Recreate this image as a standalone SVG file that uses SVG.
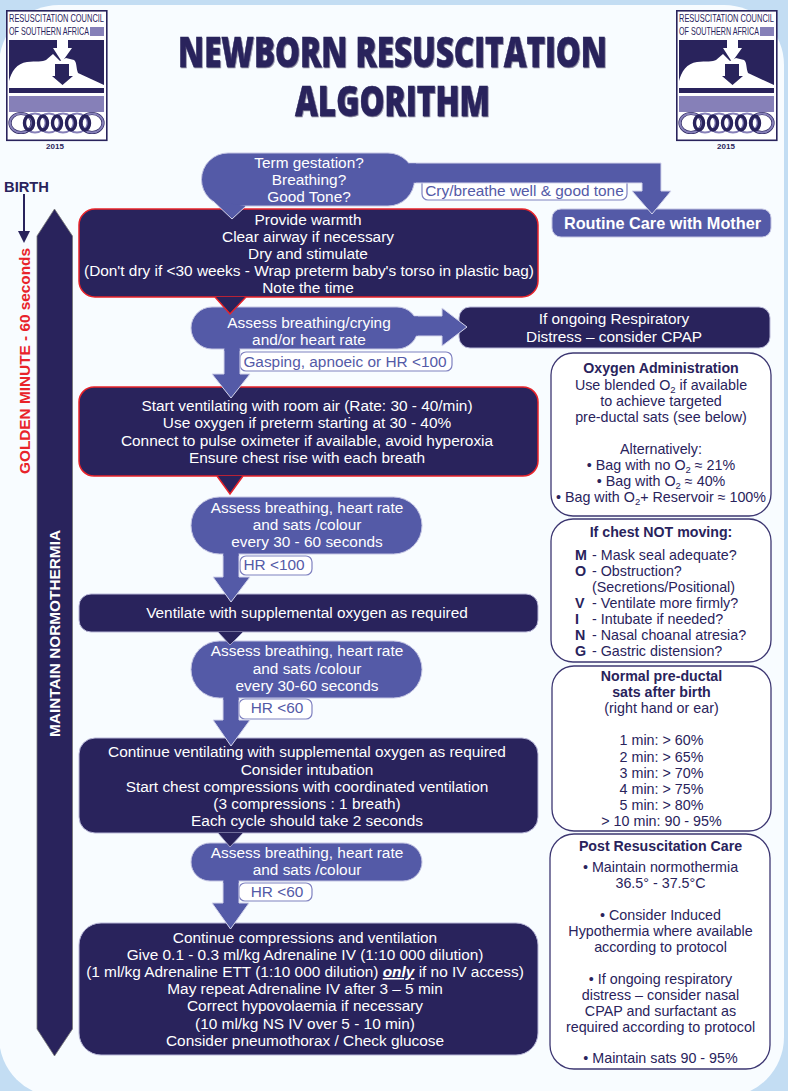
<svg xmlns="http://www.w3.org/2000/svg" width="788" height="1091" viewBox="0 0 788 1091">
<style>
text{font-family:"Liberation Sans",Arial,sans-serif}
.w{fill:#fff;font-size:15.4px;text-anchor:middle}
.n{fill:#29235c;font-size:14.3px;text-anchor:middle}
.l{fill:#29235c;font-size:14.3px}
.b{font-weight:bold}
.h{font-weight:bold;font-size:14.2px}
.s{font-size:9.500px}
.lab{fill:#545aa7;font-size:15.4px;text-anchor:middle}
.dark{fill:#29235c}
.box{fill:#29235c;stroke:#b9b8d8;stroke-width:1}
.red{fill:#29235c;stroke:#e8232a;stroke-width:1.5}
.bub{fill:#545aa7;stroke:#c4c5e3;stroke-width:1}
.lbl{fill:#fff;stroke:#7f81c0;stroke-width:1.2}
.info{fill:#fff;stroke:#3d3772;stroke-width:1.3}
.arr{fill:#545aa7;stroke:#d4d5ec;stroke-width:1}
.stub{fill:#545aa7}
.pd{fill:#29235c;stroke:#b9b8d8;stroke-width:.8}
.pr{fill:#29235c;stroke:#e8232a;stroke-width:1.5}
.title{font-family:"Open Sans","Noto Sans",sans-serif;font-weight:800;font-size:42px;fill:#29235c;stroke:#29235c;stroke-width:.5;filter:drop-shadow(1.2px 1.2px 0 #77748f)}
.lt{font-size:10.5px;fill:#29235c}
.yr{font-weight:bold;font-size:8px;fill:#29235c;text-anchor:middle}
</style>
<defs>
<g id="logoart">
<rect x="6.8" y="10.8" width="100" height="129.5" fill="#fff" stroke="#29235c" stroke-width="1.6"/>
<rect x="90" y="27" width="14" height="9" fill="#8680b8"/>
<rect x="9" y="40" width="95" height="45" fill="#29235c"/>
<path d="M9 81C11 72 17 63 27 62C36 61 43 62 46 60L53 54L60 61L66 58L74 60C77 62 76 68 78 73L104 85H9Z" fill="#fff"/>
<path d="M57 39H68V48H72L62 62L53 48H57Z" fill="#fff"/>
<path d="M55 64H69V76H73L62.500 85L52 76H55Z" fill="#29235c"/>
<rect x="9" y="88" width="95" height="5" fill="#29235c"/>
<rect x="9" y="96" width="95" height="16" fill="#8680b8"/>
<g fill="none">
<ellipse cx="21" cy="123" rx="11" ry="9.500" stroke="#29235c" stroke-width="3.200"/>
<ellipse cx="21" cy="123" rx="11" ry="9.500" stroke="#8680b8" stroke-width="2"/>
<ellipse cx="92" cy="123" rx="11" ry="9.500" stroke="#29235c" stroke-width="3.200"/>
<ellipse cx="92" cy="123" rx="11" ry="9.500" stroke="#8680b8" stroke-width="2"/>
<ellipse cx="35" cy="123" rx="10.500" ry="9.500" stroke="#8680b8" stroke-width="1.800"/>
<ellipse cx="49" cy="123" rx="10.500" ry="9.500" stroke="#8680b8" stroke-width="1.800"/>
<ellipse cx="63" cy="123" rx="10.500" ry="9.500" stroke="#8680b8" stroke-width="1.800"/>
<ellipse cx="77" cy="123" rx="10.500" ry="9.500" stroke="#8680b8" stroke-width="1.800"/>
<ellipse cx="29" cy="123" rx="4.500" ry="7" stroke="#29235c" stroke-width="3.400"/>
<ellipse cx="43" cy="123" rx="4.500" ry="7" stroke="#29235c" stroke-width="3.400"/>
<ellipse cx="57" cy="123" rx="4.500" ry="7" stroke="#29235c" stroke-width="3.400"/>
<ellipse cx="71" cy="123" rx="4.500" ry="7" stroke="#29235c" stroke-width="3.400"/>
<ellipse cx="85" cy="123" rx="4.500" ry="7" stroke="#29235c" stroke-width="3.400"/>
</g>
</g>
</defs>

<rect width="788" height="1091" fill="#c3ddf3"/>
<rect x="-1" y="5" width="785" height="1092" rx="60" ry="60" fill="#f8fcff"/>

<g id="logo-left">
<use href="#logoart"/>
<text class="lt" transform="translate(9 22) scale(.68 1)" textLength="139.700" lengthAdjust="spacingAndGlyphs">RESUSCITATION COUNCIL</text>
<text class="lt" transform="translate(9 35) scale(.68 1)" textLength="117.600" lengthAdjust="spacingAndGlyphs">OF SOUTHERN AFRICA</text>
<text class="yr" x="55" y="149">2015</text>
</g>
<g id="logo-right">
<use href="#logoart" x="670"/>
<text class="lt" transform="translate(679 22) scale(.68 1)" textLength="139.700" lengthAdjust="spacingAndGlyphs">RESUSCITATION COUNCIL</text>
<text class="lt" transform="translate(679 35) scale(.68 1)" textLength="117.600" lengthAdjust="spacingAndGlyphs">OF SOUTHERN AFRICA</text>
<text class="yr" x="726" y="149">2015</text>
</g>

<g id="title">
<text class="title" transform="translate(178 67) scale(.72 1)" textLength="595.800" lengthAdjust="spacingAndGlyphs">NEWBORN RESUSCITATION</text>
<text class="title" transform="translate(295 116) scale(.72 1)" textLength="270.800" lengthAdjust="spacingAndGlyphs">ALGORITHM</text>
</g>

<g id="birth">
<text x="4" y="192" font-size="15" font-weight="bold" fill="#29235c" textLength="45" lengthAdjust="spacingAndGlyphs">BIRTH</text>
</g>
<g id="golden-minute">
<text transform="translate(30 474) rotate(-90)" font-size="15" font-weight="bold" fill="#e8232a" textLength="226" lengthAdjust="spacingAndGlyphs">GOLDEN MINUTE - 60 seconds</text>
</g>
<g id="normothermia">
<path d="M54.500 209L72.500 236V1029L54.500 1056L37 1029V236Z" fill="#29235c" stroke="#777" stroke-width=".8"/>
<text transform="translate(60 737) rotate(-90)" font-size="14.500" font-weight="bold" fill="#fff" textLength="207" lengthAdjust="spacingAndGlyphs">MAINTAIN NORMOTHERMIA</text>
</g>

<g id="term">
<rect class="bub" x="201.500" y="153" width="213" height="53" rx="26.500"/>
<text class="w" x="309" y="168">Term gestation?</text>
<text class="w" x="309" y="185">Breathing?</text>
<text class="w" x="309" y="202">Good Tone?</text>
</g>
<g id="routine">
<rect class="bub" x="552" y="209" width="219" height="28" rx="9"/>
<text x="662.500" y="229" font-size="16.300" font-weight="bold" fill="#fff" text-anchor="middle">Routine Care with Mother</text>
</g>
<g id="warmth">
<rect class="red" x="79" y="209" width="459" height="88" rx="16"/>
<text class="w" x="308" y="225">Provide warmth</text>
<text class="w" x="308" y="242">Clear airway if necessary</text>
<text class="w" x="308" y="259">Dry and stimulate</text>
<text class="w" x="309" y="276">(Don't dry if &lt;30 weeks - Wrap preterm baby's torso in plastic bag)</text>
<text class="w" x="308" y="293">Note the time</text>
</g>
<g id="assess1">
<rect class="bub" x="191" y="307" width="227" height="42" rx="21"/>
<text class="w" x="309" y="328">Assess breathing/crying</text>
<text class="w" x="309" y="345">and/or heart rate</text>
</g>
<g id="cpap">
<rect class="box" x="459" y="307" width="311" height="41" rx="11"/>
<text class="w" x="614" y="324">If ongoing Respiratory</text>
<text class="w" x="614" y="342">Distress – consider CPAP</text>
</g>
<g id="ventilate1">
<rect class="red" x="79" y="387" width="459" height="89" rx="15"/>
<text class="w" x="307" y="411">Start ventilating with room air (Rate: 30 - 40/min)</text>
<text class="w" x="307" y="428">Use oxygen if preterm starting at 30 - 40%</text>
<text class="w" x="307" y="445.500">Connect to pulse oximeter if available, avoid hyperoxia</text>
<text class="w" x="307" y="463">Ensure chest rise with each breath</text>
</g>
<g id="assess2">
<rect class="bub" x="191" y="497" width="231" height="57" rx="28.500"/>
<text class="w" x="307" y="513">Assess breathing, heart rate</text>
<text class="w" x="307" y="530">and sats /colour</text>
<text class="w" x="307" y="547">every 30 - 60 seconds</text>
</g>
<g id="ventilate2">
<rect class="box" x="79" y="594" width="459" height="38" rx="12"/>
<text class="w" x="307" y="618">Ventilate with supplemental oxygen as required</text>
</g>
<g id="assess3">
<rect class="bub" x="191" y="641" width="231" height="57" rx="28.500"/>
<text class="w" x="307" y="656">Assess breathing, heart rate</text>
<text class="w" x="307" y="673.500">and sats /colour</text>
<text class="w" x="307" y="691">every 30-60 seconds</text>
</g>
<g id="compress">
<rect class="box" x="79" y="738" width="459" height="95" rx="16"/>
<text class="w" x="307" y="757">Continue ventilating with supplemental oxygen as required</text>
<text class="w" x="307" y="775">Consider intubation</text>
<text class="w" x="307" y="792">Start chest compressions with coordinated ventilation</text>
<text class="w" x="307" y="809">(3 compressions : 1 breath)</text>
<text class="w" x="307" y="826">Each cycle should take 2 seconds</text>
</g>
<g id="assess4">
<rect class="bub" x="191" y="843" width="231" height="38" rx="19"/>
<text class="w" x="307" y="858">Assess breathing, heart rate</text>
<text class="w" x="307" y="875">and sats /colour</text>
</g>
<g id="adrenaline">
<rect class="box" x="79" y="923" width="459" height="132" rx="22"/>
<text class="w" x="305" y="943">Continue compressions and ventilation</text>
<text class="w" x="305" y="960">Give 0.1 - 0.3 ml/kg Adrenaline IV (1:10 000 dilution)</text>
<text class="w" x="305" y="977">(1 ml/kg Adrenaline ETT (1:10 000 dilution) <tspan font-weight="bold" font-style="italic" text-decoration="underline">only</tspan> if no IV access)</text>
<text class="w" x="305" y="994">May repeat Adrenaline IV after 3 – 5 min</text>
<text class="w" x="305" y="1011">Correct hypovolaemia if necessary</text>
<text class="w" x="305" y="1029">(10 ml/kg NS IV over 5 - 10 min)</text>
<text class="w" x="305" y="1046">Consider pneumothorax / Check glucose</text>
</g>

<g id="oxygen">
<rect class="info" x="551" y="353" width="220" height="163" rx="22"/>
<text class="n h" x="661" y="373">Oxygen Administration</text>
<text class="n" x="661" y="390">Use blended O<tspan class="s" dy="3">2</tspan><tspan dy="-3"> if available</tspan></text>
<text class="n" x="661" y="406">to achieve targeted</text>
<text class="n" x="661" y="422">pre-ductal sats (see below)</text>
<text class="n" x="661" y="454">Alternatively:</text>
<text class="n" x="661" y="470">• Bag with no O<tspan class="s" dy="3">2</tspan><tspan dy="-3"> ≈ 21%</tspan></text>
<text class="n" x="661" y="486">• Bag with O<tspan class="s" dy="3">2</tspan><tspan dy="-3"> ≈ 40%</tspan></text>
<text class="n" x="661" y="502">• Bag with O<tspan class="s" dy="3">2</tspan><tspan dy="-3">+ Reservoir ≈ 100%</tspan></text>
</g>
<g id="chest">
<rect class="info" x="551" y="519" width="220" height="143" rx="22"/>
<text class="n h" x="661" y="537">If chest NOT moving:</text>
<text class="l b" x="575" y="560">M</text><text class="l" x="592" y="560">- Mask seal adequate?</text>
<text class="l b" x="575" y="576">O</text><text class="l" x="592" y="576">- Obstruction?</text>
<text class="l" x="592" y="592">(Secretions/Positional)</text>
<text class="l b" x="575" y="608">V</text><text class="l" x="592" y="608">- Ventilate more firmly?</text>
<text class="l b" x="575" y="624">I</text><text class="l" x="592" y="624">- Intubate if needed?</text>
<text class="l b" x="575" y="640">N</text><text class="l" x="592" y="640">- Nasal choanal atresia?</text>
<text class="l b" x="575" y="656">G</text><text class="l" x="592" y="656">- Gastric distension?</text>
</g>
<g id="sats">
<rect class="info" x="552" y="666" width="219" height="165" rx="22"/>
<text class="n h" x="661.500" y="681">Normal pre-ductal</text>
<text class="n h" x="661.500" y="697">sats after birth</text>
<text class="n" x="661.500" y="713">(right hand or ear)</text>
<text class="n" x="661.500" y="745">1 min: &gt; 60%</text>
<text class="n" x="661.500" y="762">2 min: &gt; 65%</text>
<text class="n" x="661.500" y="778">3 min: &gt; 70%</text>
<text class="n" x="661.500" y="794">4 min: &gt; 75%</text>
<text class="n" x="661.500" y="810">5 min: &gt; 80%</text>
<text class="n" x="661.500" y="826">&gt; 10 min: 90 - 95%</text>
</g>
<g id="post">
<rect class="info" x="550" y="834" width="220" height="235" rx="24"/>
<text class="n h" x="660.500" y="851">Post Resuscitation Care</text>
<text class="n" x="660.500" y="872">• Maintain normothermia</text>
<text class="n" x="660.500" y="888">36.5° - 37.5°C</text>
<text class="n" x="660.500" y="920">• Consider Induced</text>
<text class="n" x="660.500" y="936">Hypothermia where available</text>
<text class="n" x="660.500" y="952">according to protocol</text>
<text class="n" x="660.500" y="984">• If ongoing respiratory</text>
<text class="n" x="660.500" y="1000">distress – consider nasal</text>
<text class="n" x="660.500" y="1016">CPAP and surfactant as</text>
<text class="n" x="660.500" y="1032">required according to protocol</text>
<text class="n" x="660.500" y="1063">• Maintain sats 90 - 95%</text>
</g>

<g id="connector-labels">
<g id="label-cry"><rect class="lbl" x="422" y="176" width="205" height="24" rx="6"/><text class="lab" x="524.500" y="196">Cry/breathe well &amp; good tone</text></g>
<g id="label-gasping"><rect class="lbl" x="240" y="352" width="212" height="19" rx="6"/><text class="lab" x="345" y="366.500">Gasping, apnoeic or HR &lt;100</text></g>
<g id="label-hr100"><rect class="lbl" x="240" y="556" width="72" height="19" rx="6"/><text class="lab" x="274" y="570">HR &lt;100</text></g>
<g id="label-hr60a"><rect class="lbl" x="239" y="699" width="73" height="20" rx="6"/><text class="lab" x="277" y="713">HR &lt;60</text></g>
<g id="label-hr60b"><rect class="lbl" x="239" y="883" width="73" height="18" rx="6"/><text class="lab" x="277" y="897">HR &lt;60</text></g>
</g>

<g id="connectors">
<path d="M24 194V232" stroke="#29235c" stroke-width="2" fill="none"/>
<path class="dark" d="M18 231H30L24 243Z"/>
<path class="arr" d="M409 163H661V191H671L652 214L632 191H642V183H414"/>
<rect class="stub" x="404" y="163.500" width="12" height="19"/>
<path class="arr" d="M213 201L232 219L246 206"/>
<path class="arr" d="M414 316H442V308L467 327L442 346V336H416"/>
<rect class="stub" x="410" y="316.500" width="8" height="19"/>
<path class="arr" d="M224 349V374H212L231 398L250 374H240V349"/>
<rect class="stub" x="224.500" y="346" width="15" height="5"/>
<path class="arr" d="M223 554V577H213L231 602L250 577H239V554"/>
<rect class="stub" x="223.500" y="551" width="15" height="5"/>
<path class="arr" d="M223 698V720H213L231 746L250 720H239V698"/>
<rect class="stub" x="223.500" y="695" width="15" height="5"/>
<path class="arr" d="M223 881V903H212L230.500 929L249 903H239V881"/>
<rect class="stub" x="223.500" y="878" width="15" height="5"/>
<path class="pr" d="M215 297L230 314L246 297"/>
<path class="pr" d="M217 476L230 494L243 476"/>
<path class="pd" d="M218 632L230 645L243 632"/>
<path class="pd" d="M218 833L230 847L243 833"/>
</g>
</svg>
